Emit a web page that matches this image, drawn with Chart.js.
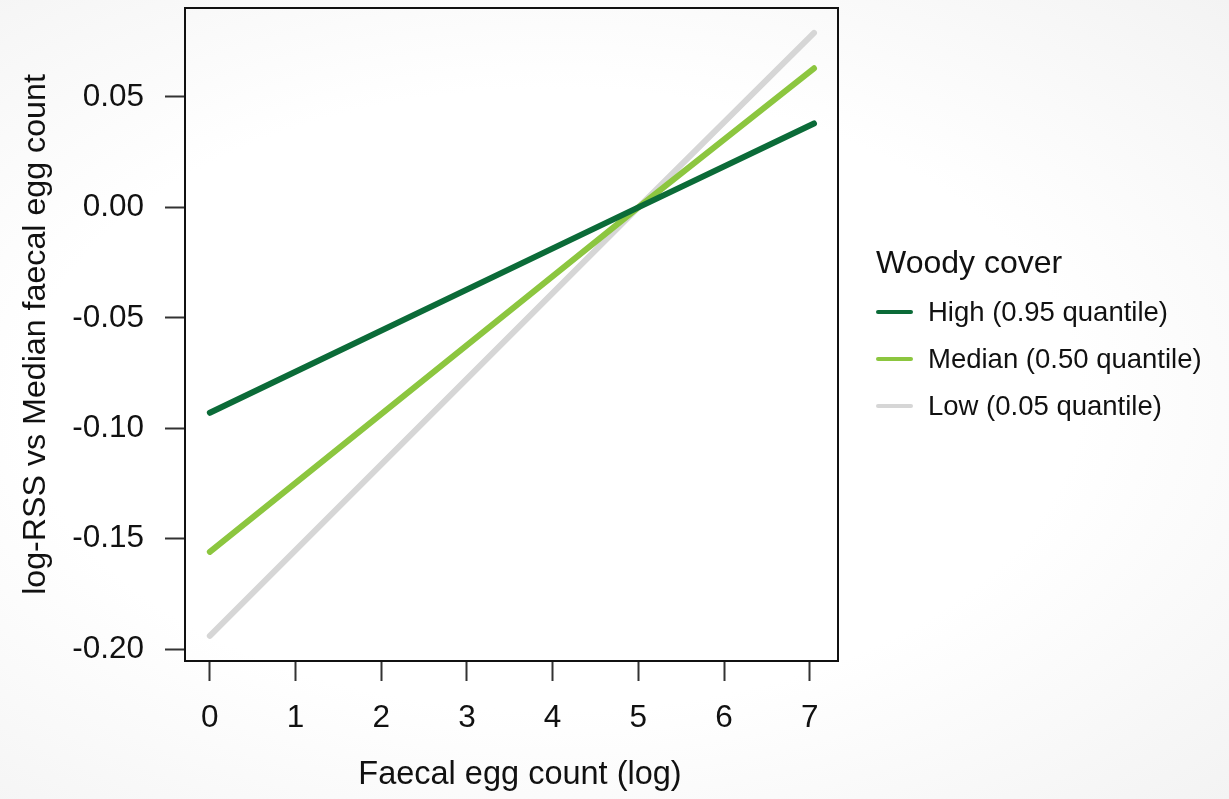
<!DOCTYPE html>
<html>
<head>
<meta charset="utf-8">
<script src="https://cdn.jsdelivr.net/npm/chart.js@4"></script>
<style>
  html, body { margin: 0; padding: 0; }
  body {
    width: 1229px; height: 799px; overflow: hidden; position: relative;
    background: radial-gradient(ellipse at 45% 50%, #ffffff 55%, #f3f3f3 100%);
    font-family: "Liberation Sans", Arial, sans-serif;
  }
  #wrap { position: absolute; left: 0; top: 0; width: 1229px; height: 799px; }
  #legend { position: absolute; left: 876px; top: 242px; color: #111; }
  #legend .title { font-size: 32px; line-height: 40px; margin-bottom: 6px; }
  #legend .item { display: flex; align-items: center; height: 47px; font-size: 27.5px; }
  #legend .swatch { width: 37px; height: 4px; margin-right: 15px; border-radius: 2px; }
  #xtitle { position: absolute; left: 20px; width: 1000px; top: 754px; text-align: center;
            font-size: 32.5px; line-height: 38px; color: #111; }
</style>
</head>
<body>
<div id="wrap"><canvas id="chart" width="1229" height="799"></canvas></div>
<div id="xtitle"></div>
<div id="legend"></div>
<script>
// Data
const xValues = [0, 5, 7.05];
const highValues = [-0.093, 0, 0.038];
const medianValues = [-0.156, 0, 0.063];
const lowValues = [-0.194, 0, 0.079];

const seriesLabels = ['High (0.95 quantile)', 'Median (0.50 quantile)', 'Low (0.05 quantile)'];
const seriesColors = ['#0b6b38', '#8cc63f', '#d6d6d6'];

const xTicks = [0, 1, 2, 3, 4, 5, 6, 7];
const yTicks = [-0.20, -0.15, -0.10, -0.05, 0.00, 0.05];

const legendTitle = 'Woody cover';
const xTitle = 'Faecal egg count (log)';
const yTitle = 'log-RSS vs Median faecal egg count';

const FONT = '"Liberation Sans", Arial, sans-serif';

function toPoints(ys) {
    return xValues.map((x, i) => ({ x: x, y: ys[i] }));
}

const allSeries = [highValues, medianValues, lowValues];

// Box around the plot area (R style)
const boxPlugin = {
    id: 'box',
    afterDraw(chart) {
        const a = chart.chartArea;
        const c = chart.ctx;
        c.save();
        c.strokeStyle = '#111';
        c.lineWidth = 2;
        c.strokeRect(a.left, a.top, a.right - a.left, a.bottom - a.top);
        c.restore();
    }
};

const ctx = document.getElementById('chart').getContext('2d');

new Chart(ctx, {
    type: 'line',
    data: {
        datasets: allSeries.map((vals, i) => ({
            label: seriesLabels[i],
            data: toPoints(vals),
            borderColor: seriesColors[i],
            backgroundColor: seriesColors[i],
            borderWidth: 6,
            borderCapStyle: 'round',
            pointRadius: 0,
            tension: 0
        }))
    },
    options: {
        responsive: false,
        animation: false,
        layout: { padding: { top: 8, right: 391, left: 0, bottom: 0 } },
        plugins: {
            legend: { display: false },
            tooltip: { enabled: false }
        },
        scales: {
            x: {
                type: 'linear',
                min: -0.29,
                max: 7.33,
                afterBuildTicks: s => { s.ticks = xTicks.map(v => ({ value: v })); },
                afterFit: s => {
                    s.height = 799 - 661;
                    s.paddingLeft = 0;
                    s.paddingRight = 0;
                },
                ticks: {
                    color: '#111',
                    font: { family: FONT, size: 31.5 },
                    padding: 18,
                    callback: v => String(v)
                },
                grid: { drawOnChartArea: false, drawTicks: true, tickLength: 20, tickColor: '#333', tickWidth: 2 },
                border: { display: true, color: '#111', width: 2 },
                title: { display: false }
            },
            y: {
                type: 'linear',
                min: -0.2054,
                max: 0.0903,
                afterBuildTicks: s => { s.ticks = yTicks.map(v => ({ value: v })); },
                afterFit: s => {
                    s.width = 185;
                    s.paddingTop = 0;
                    s.paddingBottom = 0;
                },
                ticks: {
                    color: '#111',
                    font: { family: FONT, size: 31.5 },
                    padding: 21,
                    callback: v => v.toFixed(2)
                },
                grid: { drawOnChartArea: false, drawTicks: true, tickLength: 20, tickColor: '#333', tickWidth: 2 },
                border: { display: true, color: '#111', width: 2 },
                title: {
                    display: true,
                    text: yTitle,
                    color: '#111',
                    font: { family: FONT, size: 32.2 },
                    padding: { top: 17, bottom: 0 }
                }
            }
        }
    },
    plugins: [boxPlugin]
});

document.getElementById('xtitle').textContent = xTitle;

// HTML legend built from the same arrays
const legend = document.getElementById('legend');
const t = document.createElement('div');
t.className = 'title';
t.textContent = legendTitle;
legend.appendChild(t);
seriesLabels.forEach((lab, i) => {
    const row = document.createElement('div');
    row.className = 'item';
    const sw = document.createElement('span');
    sw.className = 'swatch';
    sw.style.background = seriesColors[i];
    const txt = document.createElement('span');
    txt.textContent = lab;
    row.appendChild(sw);
    row.appendChild(txt);
    legend.appendChild(row);
});
</script>
</body>
</html>
